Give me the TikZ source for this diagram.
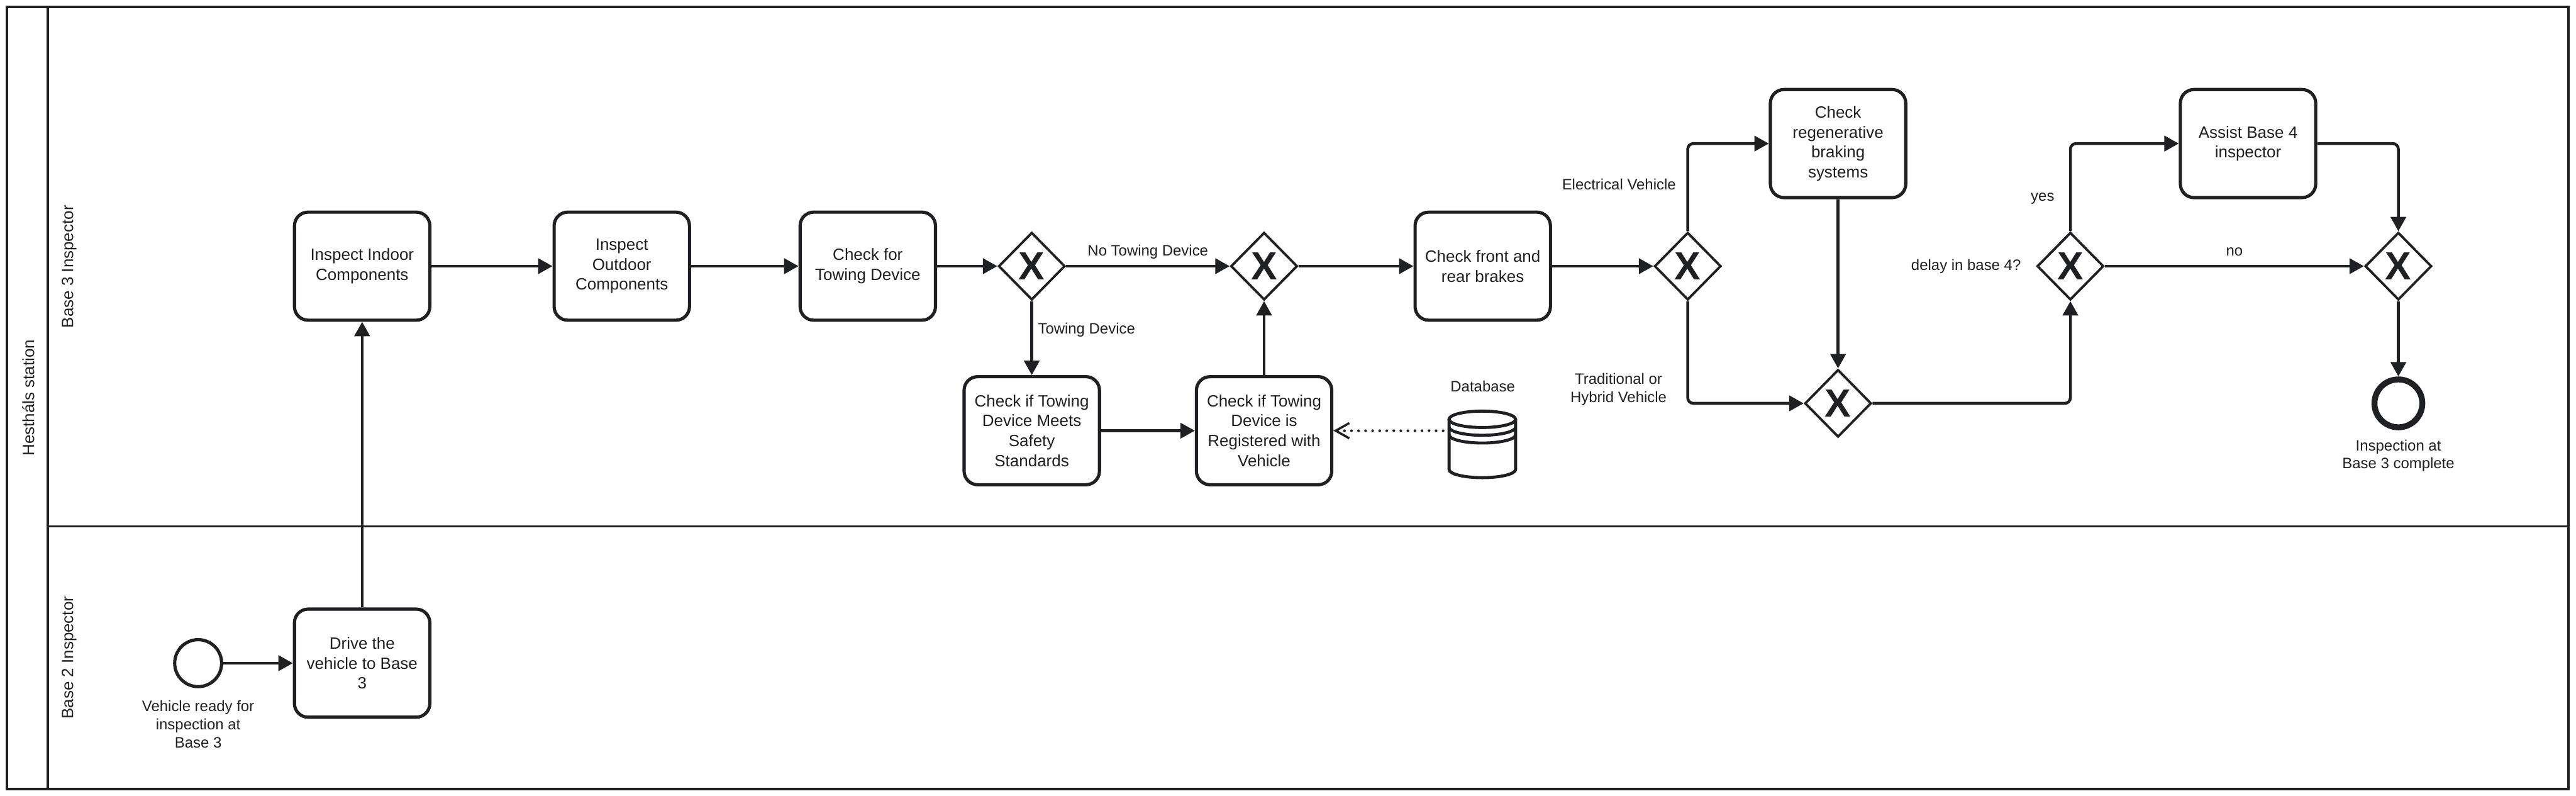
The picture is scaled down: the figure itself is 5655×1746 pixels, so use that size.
\documentclass[tikz,border=0pt]{standalone}
\usepackage{fontspec}
\setmainfont{Liberation Sans}
\usetikzlibrary{arrows.meta,shapes.geometric,calc}
\definecolor{ink}{HTML}{1F2024}
\tikzset{
  x=0.01cm,y=0.01cm,
  taskbox/.style={draw=ink,line width=2pt,rounded corners=8.5pt,fill=white,minimum width=2.97cm,minimum height=2.37cm,align=center,inner sep=0pt,text=ink,font=\fontsize{10.2}{12.4}\selectfont,execute at begin node={\rule{0pt}{8.6pt}}},
  gate/.style={draw=ink,line width=1.5pt,diamond,aspect=1,minimum width=1.46cm,minimum height=1.48cm,inner sep=0pt,fill=white,text=ink,font=\fontsize{24.5}{24.5}\selectfont\bfseries},
  lbl/.style={text=ink,align=center,inner sep=0pt,font=\fontsize{9.4}{11.2}\selectfont},
  lanelbl/.style={text=ink,inner sep=0pt,rotate=90,font=\fontsize{10.2}{12.4}\selectfont},
  lane/.style={draw=ink,line width=1.5pt},
  flow/.style={draw=ink,line width=1.8pt,rounded corners=3.5pt,-{Triangle[length=9pt,width=9.5pt]}},
  assoc/.style={draw=ink,line width=1.7pt,line cap=round,dash pattern=on 0pt off 4.4pt,-{Straight Barb[length=8.5pt,width=9.5pt,line width=1.4pt]}},
  dbline/.style={draw=ink,line width=1.9pt},
}
\begin{document}
\begin{tikzpicture}
\useasboundingbox (0,0) rectangle (5655,-1746);
\fill[white] (0,0) rectangle (5655,-1746);
% pool and lanes
\draw[lane] (15,-15) rectangle (5638,-1731);
\draw[lane] (105,-15) -- (105,-1731);
\draw[lane] (105,-1155) -- (5638,-1155);
\node[lanelbl] (pool) at (62,-873) {Hestháls station};
\node[lanelbl] (l3) at (152,-585) {Base 3 Inspector};
\node[lanelbl] (l2) at (152,-1443) {Base 2 Inspector};
% tasks
\node[taskbox] (indoor) at (795,-584) {Inspect Indoor\\Components};
\node[taskbox] (outdoor) at (1365,-584) {Inspect\\Outdoor\\Components};
\node[taskbox] (towing) at (1905,-584) {Check for\\Towing Device};
\node[taskbox] (meets) at (2265,-945) {Check if Towing\\Device Meets\\Safety\\Standards};
\node[taskbox] (reg) at (2775,-945) {Check if Towing\\Device is\\Registered with\\Vehicle};
\node[taskbox] (brakes) at (3255,-584) {Check front and\\rear brakes};
\node[taskbox] (regen) at (4035,-315) {Check\\regenerative\\braking\\systems};
\node[taskbox] (assist) at (4935,-315) {Assist Base 4\\inspector};
\node[taskbox] (drive) at (795,-1455) {Drive the\\vehicle to Base\\3};
% gateways
\node[gate] (g1) at (2265,-584) {X};
\node[gate] (g2) at (2775,-584) {X};
\node[gate] (g3) at (3705,-584) {X};
\node[gate] (g4) at (4035,-885) {X};
\node[gate] (g5) at (4545,-584) {X};
\node[gate] (g6) at (5265,-584) {X};
% events
\node[circle,draw=ink,line width=2pt,minimum size=1.03cm,inner sep=0pt,fill=white] (start) at (435,-1455) {};
\node[circle,draw=ink,line width=3.7pt,minimum size=1.05cm,inner sep=0pt,fill=white] (end) at (5265,-885) {};
% database
\draw[dbline] (3254,-920) ellipse[x radius=0.73cm,y radius=0.18cm];
\draw[dbline] (3181,-920) -- (3181,-1030) arc[start angle=180,end angle=360,x radius=0.73cm,y radius=0.18cm] -- (3327,-920);
\draw[dbline] (3181,-937) arc[start angle=180,end angle=360,x radius=0.73cm,y radius=0.18cm];
\draw[dbline] (3181,-954) arc[start angle=180,end angle=360,x radius=0.73cm,y radius=0.18cm];
\coordinate (dbport) at (3168,-945);
% flows
\draw[flow] (start) -- (drive);
\draw[flow] (drive) -- (indoor);
\draw[flow] (indoor) -- (outdoor);
\draw[flow] (outdoor) -- (towing);
\draw[flow] (towing) -- (g1);
\draw[flow] (g1) -- (g2);
\draw[flow] (g1) -- (meets);
\draw[flow] (meets) -- (reg);
\draw[flow] (reg) -- (g2);
\draw[flow] (g2) -- (brakes);
\draw[flow] (brakes) -- (g3);
\draw[flow] (g3.north) |- (regen.west);
\draw[flow] (g3.south) |- (g4.west);
\draw[flow] (regen) -- (g4);
\draw[flow] (g4.east) -| (g5.south);
\draw[flow] (g5.north) |- (assist.west);
\draw[flow] (g5) -- (g6);
\draw[flow] (assist.east) -| (g6.north);
\draw[flow] (g6) -- (end);
\draw[assoc] (dbport) -- (reg.east);
% labels
\node[lbl] (t1) at (435,-1589) {Vehicle ready for\\inspection at\\Base 3};
\node[lbl] (t2) at (2520,-552) {No Towing Device};
\node[lbl,anchor=west] (t3) at (2278,-724) {Towing Device};
\node[lbl] (t4) at (3255,-848) {Database};
\node[lbl] (t5) at (3554,-405) {Electrical Vehicle};
\node[lbl] (t6) at (3553,-854) {Traditional or\\Hybrid Vehicle};
\node[lbl] (t7) at (4484,-436) {yes};
\node[lbl] (t8) at (4316,-585) {delay in base 4?};
\node[lbl] (t9) at (4905,-552) {no};
\node[lbl] (t10) at (5265,-1000) {Inspection at\\Base 3 complete};
\end{tikzpicture}
\end{document}
